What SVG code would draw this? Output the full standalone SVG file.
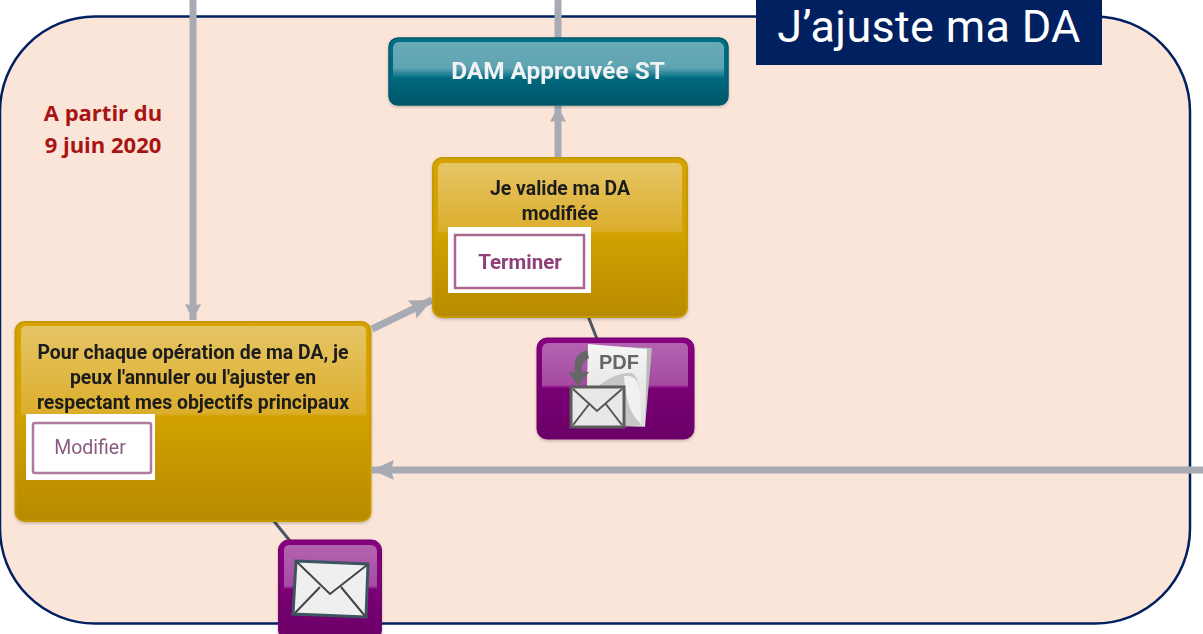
<svg xmlns="http://www.w3.org/2000/svg" width="1203" height="634" viewBox="0 0 1203 634">
<defs>
<linearGradient id="gold" x1="0" y1="0" x2="0" y2="1"><stop offset="0" stop-color="#d6a300"/><stop offset="0.45" stop-color="#d3a200"/><stop offset="1" stop-color="#b78a00"/></linearGradient>
<linearGradient id="goldHi" x1="0" y1="0" x2="0" y2="1"><stop offset="0" stop-color="#e6c566"/><stop offset="0.97" stop-color="#dcae2c"/><stop offset="1" stop-color="#d3a200"/></linearGradient>
<linearGradient id="teal" x1="0" y1="0" x2="0" y2="1"><stop offset="0" stop-color="#006e84"/><stop offset="0.55" stop-color="#006a7e"/><stop offset="1" stop-color="#00566a"/></linearGradient>
<linearGradient id="tealHi" x1="0" y1="0" x2="0" y2="1"><stop offset="0" stop-color="#6aaab8"/><stop offset="0.72" stop-color="#5fa4b2"/><stop offset="1" stop-color="#006d83"/></linearGradient>
<linearGradient id="purple" x1="0" y1="0" x2="0" y2="1"><stop offset="0" stop-color="#86007f"/><stop offset="1" stop-color="#6b0068"/></linearGradient>
<linearGradient id="purpleHi" x1="0" y1="0" x2="0" y2="1"><stop offset="0" stop-color="#b264b0"/><stop offset="0.93" stop-color="#a64aa2"/><stop offset="1" stop-color="#86007f"/></linearGradient>
<linearGradient id="page" x1="0" y1="0" x2="0" y2="1"><stop offset="0" stop-color="#f5f5f5"/><stop offset="1" stop-color="#dedede"/></linearGradient>
<filter id="soft" x="-5%" y="-5%" width="110%" height="110%"><feGaussianBlur stdDeviation="0.6"/></filter>
<filter id="shadow" x="-3%" y="-3%" width="106%" height="108%"><feDropShadow dx="0" dy="1.500" stdDeviation="1.500" flood-color="#000" flood-opacity=".22"/></filter>
<marker id="arrow" markerUnits="userSpaceOnUse" markerWidth="18" markerHeight="20" refX="16" refY="10" orient="auto"><path d="M0 2L16 10L0 18L1.500 10Z" fill="#a8abb4"/></marker>
<marker id="arrowL" markerUnits="userSpaceOnUse" markerWidth="24" markerHeight="22" refX="22" refY="11" orient="auto"><path d="M0 1L22 11L0 21L3 11Z" fill="#a8abb4"/></marker>
</defs>
<style>
.flow{fill:none;stroke:#a8abb4;stroke-width:7}
.link{fill:none;stroke:#4d5563;stroke-width:3}
.t{font-family:Roboto,"Liberation Sans",sans-serif;font-weight:700;text-anchor:middle}
.d{fill:#1a1a1a;font-size:19.400px}
.btn{fill:#fff}
.btnb{fill:#fff;stroke:#a9668f;stroke-width:2.500}
</style>
<rect width="1203" height="634" fill="#fff"/>
<rect id="panel" x="0" y="16.500" width="1190" height="607" rx="95" fill="#fbe5d8" stroke="#002060" stroke-width="2.500"/>
<g id="connectors">
<path class="flow" d="M193 0V320" marker-end="url(#arrow)"/>
<path class="flow" d="M558 0V39"/>
<path class="flow" d="M558 158V106" marker-end="url(#arrow)"/>
<path class="flow" d="M372 329L432 300" marker-end="url(#arrowL)"/>
<path class="flow" d="M1203 470H372" marker-end="url(#arrowL)"/>
<path class="link" d="M588 316L597 339"/>
<path class="link" d="M273 520L290 541"/>
</g>
<g id="title"><rect x="756" y="0" width="346" height="65" fill="#002060"/><text x="929" y="42" fill="#fff" text-anchor="middle" style="font-family:Roboto,'Open Sans',sans-serif;font-size:45px;letter-spacing:.3px">J’ajuste ma DA</text></g>
<g id="date" style="font-family:'Open Sans',sans-serif;font-weight:700;font-size:22px;fill:#a81414;text-anchor:middle"><text x="103" y="121">A partir du</text><text x="103" y="153">9 juin 2020</text></g>
<g id="node-dam" filter="url(#shadow)">
<rect x="389" y="38" width="339" height="67" rx="9" fill="url(#teal)" stroke="#005a6c" stroke-width="1.500"/>
<path d="M399 42H718a6 6 0 0 1 6 6V78H393V48a6 6 0 0 1 6-6Z" fill="url(#tealHi)"/>
<text class="t" x="558" y="79" fill="#f0f2f3" font-size="24.400">DAM Approuvée ST</text>
</g>
<g id="node-valide" filter="url(#shadow)">
<rect x="433" y="158" width="254" height="159" rx="9" fill="url(#gold)" stroke="#c59a05" stroke-width="2"/>
<path d="M443 163H677a5 5 0 0 1 5 5V233H438V168a5 5 0 0 1 5-5Z" fill="url(#goldHi)"/>
<text class="t d" x="560" y="195">Je valide ma DA</text><text class="t d" x="560" y="220">modifiée</text>
<rect class="btn" x="448" y="227" width="143" height="66"/><rect class="btnb" x="455" y="235" width="129" height="53"/>
<text x="520" y="269" text-anchor="middle" fill="#8f3f78" filter="url(#soft)" style="font-family:Roboto,sans-serif;font-weight:700;font-size:20.500px">Terminer</text>
</g>
<g id="node-pdf" filter="url(#shadow)">
<rect x="537" y="338" width="157" height="101" rx="10" fill="url(#purple)" stroke="#75006f"/>
<path d="M548 343H683a5 5 0 0 1 5 5V388H542V349a6 6 0 0 1 6-6Z" fill="url(#purpleHi)"/>
<g filter="url(#soft)">
<path d="M592 346L652 348L645 427L586 425Z" fill="#bbb"/>
<path d="M588 344L647 349L645 426L586 423Z" fill="url(#page)"/>
<path d="M592 392Q612 372 632 373Q638 376 640 392V425H596Z" fill="#c6c6c6"/>
<path d="M624 376Q638 374 640 392L641 424Q626 412 624 376Z" fill="#f1f1f1"/>
<path d="M587 350Q572 354 575 372H568L578 386L589 372H582Q580 362 589 358Z" fill="#666"/>
<rect x="571" y="387" width="53" height="40" fill="#e8e8e8" stroke="#5c5c5c" stroke-width="3"/>
<path d="M573 389L597 411L622 389M573 425L590 403M622 425L605 403" fill="none" stroke="#555" stroke-width="2"/>
</g>
<text x="619" y="369" text-anchor="middle" fill="#666" style="font-family:'Liberation Sans',sans-serif;font-weight:700;font-size:20px">PDF</text>
</g>
<g id="node-operation" filter="url(#shadow)">
<rect x="15.500" y="322" width="355" height="199" rx="9" fill="url(#gold)" stroke="#c59a05" stroke-width="2"/>
<path d="M26 326H361a5 5 0 0 1 5 5V416H21V331a5 5 0 0 1 5-5Z" fill="url(#goldHi)"/>
<text class="t d" x="193" y="359">Pour chaque opération de ma DA, je</text><text class="t d" x="193" y="384">peux l'annuler ou l'ajuster en</text><text class="t d" x="193" y="409">respectant mes objectifs principaux</text>
<rect class="btn" x="26" y="414" width="129" height="66"/><rect x="33" y="423" width="118" height="50" rx="2" fill="#fff" stroke="#b07a9e" stroke-width="2.500"/>
<text x="90" y="454" text-anchor="middle" fill="#8a5a80" filter="url(#soft)" style="font-family:Roboto,sans-serif;font-size:19.500px">Modifier</text>
</g>
<g id="node-mail" filter="url(#shadow)">
<rect x="278.500" y="540" width="103" height="100" rx="10" fill="url(#purple)" stroke="#75006f"/>
<path d="M289 545H371a6 6 0 0 1 6 6V589H284V551a5 5 0 0 1 5-6Z" fill="url(#purpleHi)"/>
<g filter="url(#soft)">
<path d="M296 561L368 564L366 617L293 614Z" fill="#efefef" stroke="#3d5560" stroke-width="3"/>
<path d="M297 562L330 594L367 565M295 613L320 587M365 616L341 587" fill="none" stroke="#444" stroke-width="2"/>
</g>
</g>
</svg>
